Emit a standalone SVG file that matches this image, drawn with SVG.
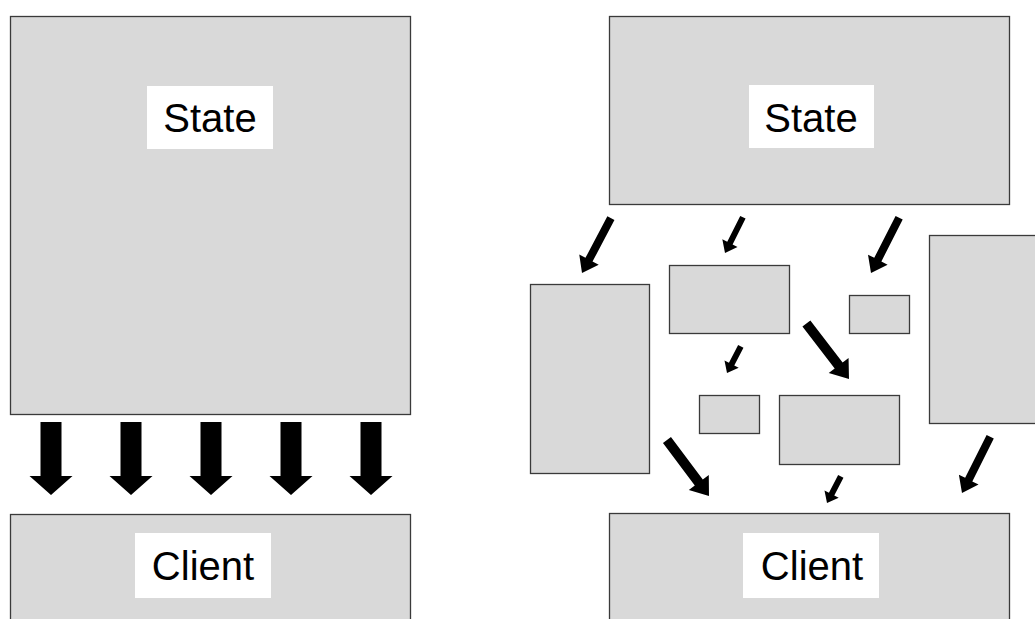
<svg xmlns="http://www.w3.org/2000/svg" width="1035" height="619" viewBox="0 0 1035 619">
  <style>
    .box { fill: #d9d9d9; stroke: #3a3a3a; stroke-width: 1.3; }
    .tag { fill: #ffffff; }
    .lbl { font-family: "Liberation Sans", Arial, sans-serif; font-size: 40px; fill: #000; text-anchor: middle; }
    .arr { fill: #000; }
  </style>
  <rect width="1035" height="619" fill="#ffffff"/>

  <!-- Left panel: one big state block feeding the client -->
  <g id="state-left">
    <rect class="box" x="10.5" y="16.5" width="400" height="398"/>
    <rect class="tag" x="147" y="86" width="126" height="63"/>
    <text class="lbl" x="210" y="132">State</text>
  </g>
  <g id="client-left">
    <rect class="box" x="10.5" y="514.5" width="400" height="120"/>
    <rect class="tag" x="135" y="533" width="136" height="65"/>
    <text class="lbl" x="203" y="580">Client</text>
  </g>

  <!-- Right panel: state split into scattered pieces -->
  <g id="state-right">
    <rect class="box" x="609.5" y="16.5" width="400" height="188"/>
    <rect class="tag" x="749" y="85" width="125" height="63"/>
    <text class="lbl" x="811" y="132">State</text>
  </g>
  <g id="client-right">
    <rect class="box" x="609.5" y="513.5" width="400" height="120"/>
    <rect class="tag" x="743" y="533" width="136" height="65"/>
    <text class="lbl" x="812" y="580">Client</text>
  </g>
  <g id="piece-tall-left"><rect class="box" x="530.5" y="284.5" width="119" height="189"/></g>
  <g id="piece-mid-top"><rect class="box" x="669.5" y="265.5" width="120" height="68"/></g>
  <g id="piece-small-right"><rect class="box" x="849.5" y="295.5" width="60" height="38"/></g>
  <g id="piece-tall-right"><rect class="box" x="929.5" y="235.5" width="120" height="188"/></g>
  <g id="piece-small-mid"><rect class="box" x="699.5" y="395.5" width="60" height="38"/></g>
  <g id="piece-mid-bottom"><rect class="box" x="779.5" y="395.5" width="120" height="69"/></g>

  <!-- Connectors: block arrows -->
  <g id="connectors">
    <!-- left panel: five parallel downward arrows -->
    <path class="arr" d="M40.5,422 H61.5 V476 H72.5 L51,495 L29.5,476 H40.5 Z"/>
    <path class="arr" d="M120.5,422 H141.5 V476 H152.5 L131,495 L109.5,476 H120.5 Z"/>
    <path class="arr" d="M200.5,422 H221.5 V476 H232.5 L211,495 L189.5,476 H200.5 Z"/>
    <path class="arr" d="M280.5,422 H301.5 V476 H312.5 L291,495 L269.5,476 H280.5 Z"/>
    <path class="arr" d="M360.5,422 H381.5 V476 H392.5 L371,495 L349.5,476 H360.5 Z"/>

    <!-- right panel: diagonal arrows, tip at local origin pointing +x -->
    <path class="arr" transform="translate(582,273) rotate(117.8)" d="M-62,-4 H-15 V-11 L0,0 L-15,11 V4 H-62 Z"/>
    <path class="arr" transform="translate(725,253) rotate(116.6)" d="M-40,-3 H-11 V-8.5 L0,0 L-11,8.5 V3 H-40 Z"/>
    <path class="arr" transform="translate(871,273) rotate(117)" d="M-62,-4 H-15 V-11 L0,0 L-15,11 V4 H-62 Z"/>
    <path class="arr" transform="translate(849,379) rotate(52.5)" d="M-70,-5 H-17 V-12.5 L0,0 L-17,12.5 V5 H-70 Z"/>
    <path class="arr" transform="translate(727,373) rotate(117.4)" d="M-30,-3 H-10 V-8 L0,0 L-10,8 V3 H-30 Z"/>
    <path class="arr" transform="translate(709,496) rotate(53.1)" d="M-70,-5 H-17 V-12.5 L0,0 L-17,12.5 V5 H-70 Z"/>
    <path class="arr" transform="translate(827,503) rotate(117.4)" d="M-30,-3 H-10 V-8 L0,0 L-10,8 V3 H-30 Z"/>
    <path class="arr" transform="translate(962,493) rotate(116.6)" d="M-63,-4 H-15 V-11 L0,0 L-15,11 V4 H-63 Z"/>
  </g>
</svg>
